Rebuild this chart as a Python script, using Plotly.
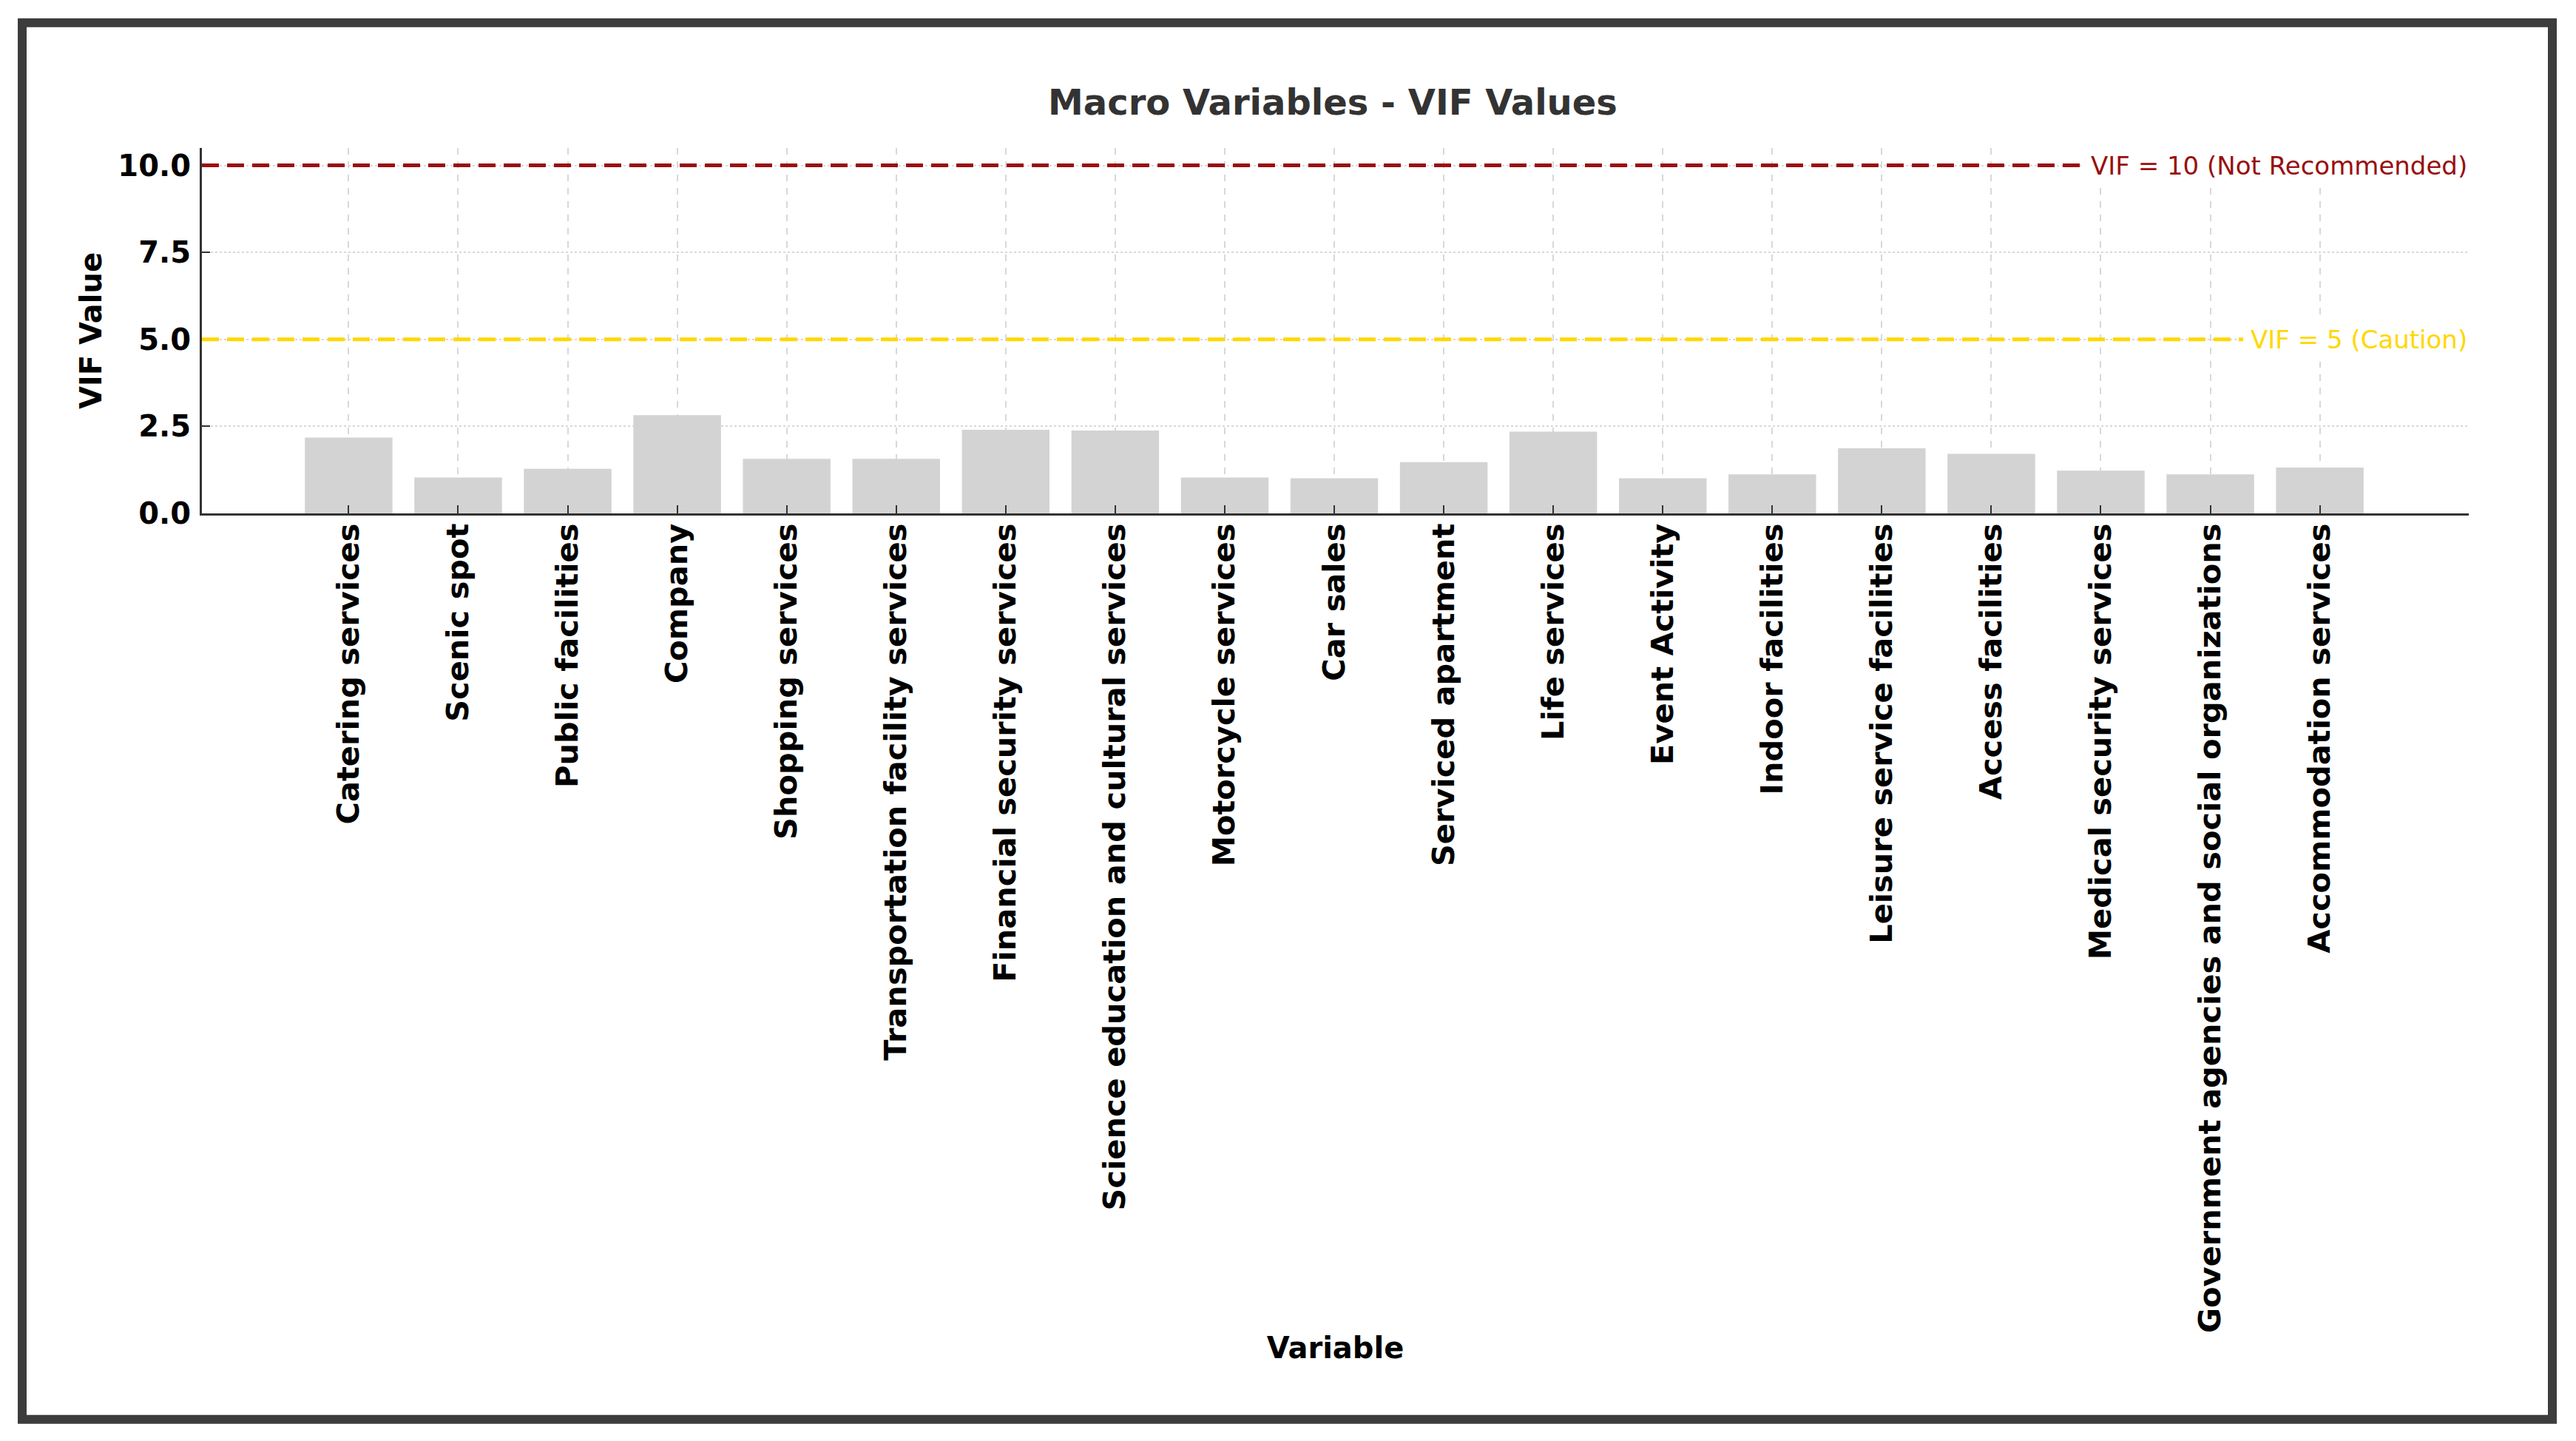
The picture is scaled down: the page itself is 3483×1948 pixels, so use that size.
import plotly.graph_objects as go

categories = [
    "Catering services", "Scenic spot", "Public facilities", "Company",
    "Shopping services", "Transportation facility services",
    "Financial security services", "Science education and cultural services",
    "Motorcycle services", "Car sales", "Serviced apartment", "Life services",
    "Event Activity", "Indoor facilities", "Leisure service facilities",
    "Access facilities", "Medical security services",
    "Government agencies and social organizations", "Accommodation services",
]
vif_values = [2.18, 1.03, 1.28, 2.82, 1.57, 1.57, 2.40, 2.38, 1.03, 1.01,
              1.47, 2.35, 1.01, 1.12, 1.87, 1.71, 1.23, 1.12, 1.32]
y_ticks = [0.0, 2.5, 5.0, 7.5, 10.0]
thresholds = [10, 5]
threshold_labels = ["VIF = 10 (Not Recommended)", "VIF = 5 (Caution)"]
threshold_colors = ["#990f0f", "#FFD700"]

W, H = 3483, 1948
L, R = 273, 3338          # plot area pixel edges
T, B = 199.5, 694

FONT = "DejaVu Sans"

fig = go.Figure()
fig.add_trace(go.Bar(
    x=categories, y=vif_values, width=0.8,
    marker=dict(color="#D3D3D3", line=dict(width=0)),
    showlegend=False,
))

for val, lab, col in zip(thresholds, threshold_labels, threshold_colors):
    fig.add_shape(type="line", xref="paper", yref="y", x0=0, x1=1, y0=val, y1=val,
                  line=dict(color=col, width=5, dash="23px,11px"), layer="above")
    fig.add_annotation(xref="paper", yref="y", x=1, y=val, xanchor="right",
                       yanchor="middle", text=lab, showarrow=False,
                       font=dict(family=FONT, size=34, color=col),
                       bgcolor="white", borderpad=10, borderwidth=0, xshift=8)

# outer frame
def px2x(p):
    return (p - L) / (R - L)

def py2y(p):
    return (B - p) / (B - T)

fig.add_shape(type="rect", xref="paper", yref="paper",
              x0=px2x(30), x1=px2x(3451), y0=py2y(1920), y1=py2y(30),
              line=dict(color="#3c3c3c", width=12), fillcolor="rgba(0,0,0,0)",
              layer="above")

fig.update_layout(
    width=W, height=H,
    margin=dict(l=L, r=W - R, t=T, b=H - B, autoexpand=False),
    paper_bgcolor="white", plot_bgcolor="white",
    font=dict(family=FONT, color="black"),
    title=dict(text="Macro Variables - VIF Values", x=(1802) / W, xanchor="center",
               y=1 - 138 / H, yanchor="middle",
               font=dict(family=FONT, size=48, color="#333333", weight="bold")),
    bargap=0.2,
)
fig.update_xaxes(
    range=[-1.34, 19.36], type="category",
    showline=True, linecolor="#333333", linewidth=3, mirror=False,
    ticks="inside", ticklen=11, tickwidth=2, tickcolor="#333333",
    tickangle=-90, tickfont=dict(family=FONT, size=41.5, color="black", weight="bold"),
    ticklabelstandoff=-6,
    showgrid=True, gridcolor="#d8d8d8", gridwidth=2, griddash="dash",
    title=dict(text="Variable", standoff=8,
               font=dict(family=FONT, size=40, color="black", weight="bold")),
    automargin=False, zeroline=False,
)
fig.update_yaxes(
    range=[0, 10.5], tickvals=y_ticks, ticktext=[f"{v:.1f}" for v in y_ticks],
    showline=True, linecolor="#333333", linewidth=3, mirror=False,
    ticks="inside", ticklen=11, tickwidth=2, tickcolor="#333333",
    tickfont=dict(family=FONT, size=40, color="black", weight="bold"),
    ticklabelstandoff=4,
    showgrid=True, gridcolor="#d8d8d8", gridwidth=2, griddash="dot",
    title=dict(text="VIF Value", standoff=10,
               font=dict(family=FONT, size=40, color="black", weight="bold")),
    automargin=False, zeroline=False,
)

fig.write_html(
    "out.html",
    config={"displayModeBar": False},
    post_script="document.body.style.margin='0';document.body.style.overflow='hidden';",
)
